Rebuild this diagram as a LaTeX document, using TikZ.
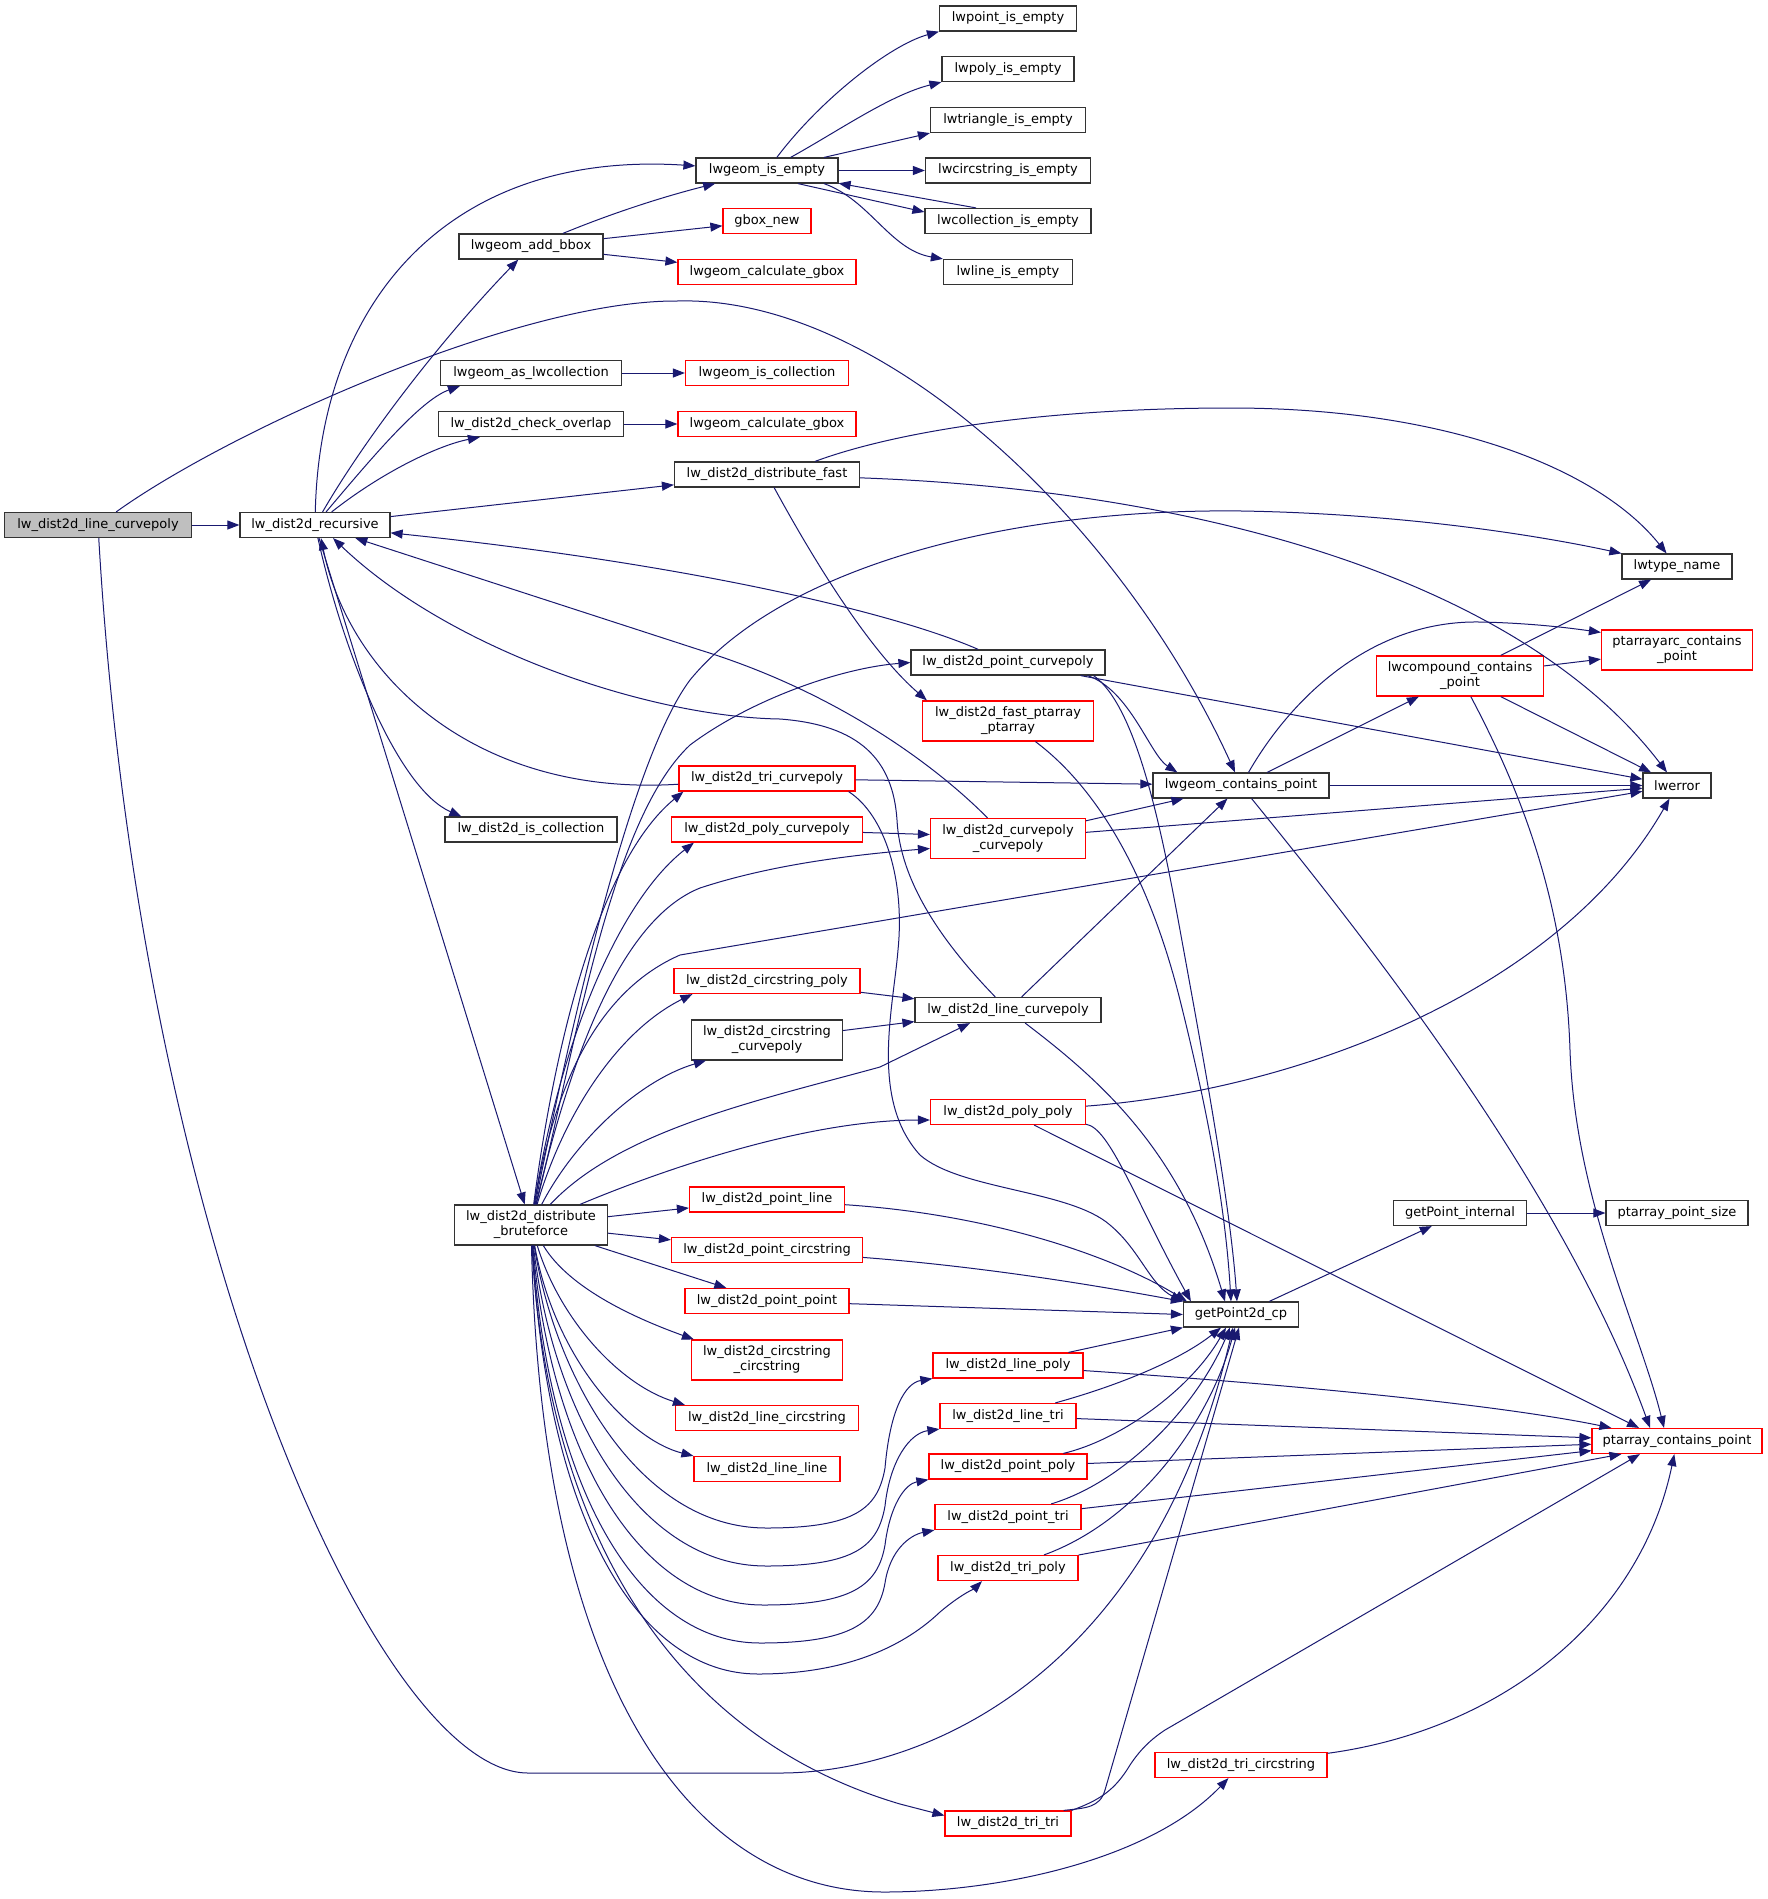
\documentclass[tikz,border=0pt]{standalone}
\usepackage{fontspec}
\setmainfont{DejaVu Sans}
\usetikzlibrary{arrows.meta}
\definecolor{edgec}{HTML}{191970}
\definecolor{redb}{HTML}{FF0000}
\begin{document}
\begin{tikzpicture}[x=1pt,y=-1pt,
  nbox/.style={draw=black!80, fill=white, line width=1.2pt, inner sep=0pt, minimum height=25pt, font=\fontsize{13}{15}\selectfont, text=black},
  nbox2/.style={nbox, minimum height=40pt, align=center},
  rbox/.style={nbox, draw=redb},
  rbox2/.style={nbox2, draw=redb},
  cnx/.style={draw=edgec, line width=1pt, -{Triangle[length=12pt,width=9pt]}}]
\fill[white] (0,0) rectangle (1768,1899);
\useasboundingbox (0,0) rectangle (1768,1899);
% ---------- nodes ----------
\node[nbox,minimum width=187pt,fill=black!25] (A) at (98,525) {lw\_dist2d\_line\_curvepoly};
\node[nbox,minimum width=150pt] (R) at (315,525) {lw\_dist2d\_recursive};
\node[nbox,minimum width=142pt] (E) at (767,170.5) {lwgeom\_is\_empty};
\node[nbox,minimum width=144pt] (AB) at (531,246.5) {lwgeom\_add\_bbox};
\node[rbox,minimum width=88pt] (GN) at (767,221) {gbox\_new};
\node[rbox,minimum width=178pt] (CGa) at (767,272) {lwgeom\_calculate\_gbox};
\node[nbox,minimum width=181pt] (AL) at (531,373) {lwgeom\_as\_lwcollection};
\node[rbox,minimum width=163pt] (IC) at (767,373) {lwgeom\_is\_collection};
\node[nbox,minimum width=185pt] (CO) at (531,424) {lw\_dist2d\_check\_overlap};
\node[rbox,minimum width=178pt] (CGb) at (767,424) {lwgeom\_calculate\_gbox};
\node[nbox,minimum width=185pt] (DF) at (767,474.5) {lw\_dist2d\_distribute\_fast};
\node[nbox,minimum width=137pt] (PE) at (1008,18.5) {lwpoint\_is\_empty};
\node[nbox,minimum width=132pt] (PY) at (1008,69) {lwpoly\_is\_empty};
\node[nbox,minimum width=155pt] (TE) at (1008,120) {lwtriangle\_is\_empty};
\node[nbox,minimum width=165pt] (CSE) at (1008,170.5) {lwcircstring\_is\_empty};
\node[nbox,minimum width=166pt] (COE) at (1008,221) {lwcollection\_is\_empty};
\node[nbox,minimum width=129pt] (LE) at (1008,272) {lwline\_is\_empty};
\node[nbox,minimum width=110pt] (TN) at (1677,566.5) {lwtype\_name};
\node[rbox2,minimum width=151pt] (PAC) at (1677,650) {ptarrayarc\_contains\\\_point};
\node[nbox,minimum width=194pt] (PCP) at (1008,662.5) {lw\_dist2d\_point\_curvepoly};
\node[rbox2,minimum width=171pt] (FPP) at (1008,721) {lw\_dist2d\_fast\_ptarray\\\_ptarray};
\node[rbox2,minimum width=167pt] (CC) at (1460,676) {lwcompound\_contains\\\_point};
\node[nbox,minimum width=176pt] (C) at (1241,785.5) {lwgeom\_contains\_point};
\node[nbox,minimum width=68pt] (LW) at (1677,785.5) {lwerror};
\node[rbox,minimum width=176pt] (TCP) at (767,778.5) {lw\_dist2d\_tri\_curvepoly};
\node[nbox,minimum width=172pt] (ISC) at (531,829.5) {lw\_dist2d\_is\_collection};
\node[rbox,minimum width=191pt] (PCV) at (767,829.5) {lw\_dist2d\_poly\_curvepoly};
\node[rbox2,minimum width=155pt] (CCP) at (1008,838.5) {lw\_dist2d\_curvepoly\\\_curvepoly};
\node[rbox,minimum width=186pt] (CSP) at (767,981) {lw\_dist2d\_circstring\_poly};
\node[nbox2,minimum width=151pt] (CSC) at (767,1040) {lw\_dist2d\_circstring\\\_curvepoly};
\node[nbox,minimum width=186pt] (LCP) at (1008,1010) {lw\_dist2d\_line\_curvepoly};
\node[rbox,minimum width=155pt] (PP) at (1008,1112) {lw\_dist2d\_poly\_poly};
\node[nbox2,minimum width=153pt] (B) at (531,1225) {lw\_dist2d\_distribute\\\_bruteforce};
\node[rbox,minimum width=155pt] (PL) at (767,1199.5) {lw\_dist2d\_point\_line};
\node[rbox,minimum width=191pt] (PCS) at (767,1250) {lw\_dist2d\_point\_circstring};
\node[nbox,minimum width=133pt] (GPI) at (1460,1213) {getPoint\_internal};
\node[nbox,minimum width=142pt] (PPS) at (1677,1213) {ptarray\_point\_size};
\node[rbox,minimum width=164pt] (PPT) at (767,1301) {lw\_dist2d\_point\_point};
\node[nbox,minimum width=115pt] (G) at (1241,1314.5) {getPoint2d\_cp};
\node[rbox2,minimum width=151pt] (CSCS) at (767,1360) {lw\_dist2d\_circstring\\\_circstring};
\node[rbox,minimum width=150pt] (LP) at (1008,1365.5) {lw\_dist2d\_line\_poly};
\node[rbox,minimum width=183pt] (LCS) at (767,1418) {lw\_dist2d\_line\_circstring};
\node[rbox,minimum width=136pt] (LT) at (1008,1416) {lw\_dist2d\_line\_tri};
\node[rbox,minimum width=170pt] (PCT) at (1677,1441) {ptarray\_contains\_point};
\node[rbox,minimum width=146pt] (LL) at (767,1469) {lw\_dist2d\_line\_line};
\node[rbox,minimum width=158pt] (PPO) at (1008,1466.5) {lw\_dist2d\_point\_poly};
\node[rbox,minimum width=146pt] (PT) at (1008,1517) {lw\_dist2d\_point\_tri};
\node[rbox,minimum width=140pt] (TP) at (1008,1568) {lw\_dist2d\_tri\_poly};
\node[rbox,minimum width=172pt] (TCS) at (1241,1765) {lw\_dist2d\_tri\_circstring};
\node[rbox,minimum width=126pt] (TT) at (1008,1823.5) {lw\_dist2d\_tri\_tri};
% ---------- edges ----------
% main node
\draw[cnx] (A) -- (R);
\draw[cnx] (A) .. controls (230,430) and (520,300) .. (677,301) .. controls (880,295) and (1120,520) .. (C);
\draw[cnx] (A) .. controls (140,1250) and (380,1773) .. (528,1773) -- (780,1773) .. controls (920,1773) and (1150,1680) .. ([xshift=-8pt]G.south);
% recursive
\draw[cnx] (R) .. controls (320,300) and (450,150) .. (E);
\draw[cnx] (R) .. controls (370,430) and (450,330) .. (AB);
\draw[cnx] (R) .. controls (370,460) and (420,400) .. ([xshift=20pt]AL.south west);
\draw[cnx] (R) .. controls (385,470) and (440,445) .. ([xshift=42pt]CO.south west);
\draw[cnx] (R) -- (DF);
\draw[cnx] (R) .. controls (345,660) and (400,790) .. ([xshift=17pt]ISC.north west);
\draw[cnx] (R) -- (B);
% into recursive
\draw[cnx] (PCP) .. controls (900,615) and (700,565) .. (R);
\draw[cnx] (CCP) .. controls (930,760) and (830,690) .. (700,650) -- (R);
\draw[cnx] (TCP) .. controls (480,797) and (350,680) .. ([xshift=6pt]R.south);
\draw[cnx] (LCP) .. controls (940,940) and (900,880) .. (897,820) .. controls (893,760) and (860,725) .. (780,719) .. controls (650,717) and (450,650) .. ([xshift=18pt]R.south);
% is_empty
\draw[cnx] (E) .. controls (820,100) and (890,45) .. (PE.south west);
\draw[cnx] (E) .. controls (840,130) and (890,95) .. (PY.south west);
\draw[cnx] (E) -- (TE.south west);
\draw[cnx] (E) -- (CSE);
\draw[cnx] ([xshift=31pt]E.south) -- ([yshift=9pt]COE.west);
\draw[cnx] ([xshift=-32pt]COE.north) -- (E);
\draw[cnx] ([xshift=57pt]E.south) .. controls (870,200) and (890,250) .. (LE.north west);
% add_bbox etc
\draw[cnx] (AB) .. controls (620,210) and (670,195) .. (E);
\draw[cnx] (AB) -- (GN);
\draw[cnx] (AB) -- (CGa);
\draw[cnx] (AL) -- (IC);
\draw[cnx] (CO) -- (CGb);
% distribute_fast
\draw[cnx] ([xshift=48pt]DF.north) .. controls (900,430) and (1050,408) .. (1231,408) .. controls (1450,408) and (1600,470) .. (TN);
\draw[cnx] (DF) .. controls (1200,490) and (1520,580) .. (LW);
\draw[cnx] (DF) .. controls (830,590) and (880,660) .. ([xshift=5pt]FPP.north west);
% bruteforce
\draw[cnx] (B) .. controls (570,1030) and (630,760) .. (690,680) .. controls (780,570) and (1000,508) .. (1242,511) .. controls (1420,514) and (1560,540) .. (TN.north west);
\draw[cnx] (B) .. controls (575,1050) and (610,820) .. (690,745) .. controls (750,700) and (840,668) .. (PCP.west);
\draw[cnx] (B) .. controls (555,1040) and (600,860) .. ([xshift=5pt]TCP.south west);
\draw[cnx] (B) .. controls (560,1040) and (620,900) .. ([xshift=23pt]PCV.south west);
\draw[cnx] (B) .. controls (570,1060) and (620,920) .. (700,888) .. controls (770,865) and (850,855) .. ([yshift=-10pt]CCP.west);
\draw[cnx] (B) .. controls (555,1080) and (600,990) .. (680,955) -- (LW);
\draw[cnx] (B) .. controls (565,1110) and (620,1030) .. ([xshift=19pt]CSP.south west);
\draw[cnx] (B) .. controls (575,1140) and (640,1080) .. ([xshift=15pt]CSC.south west);
\draw[cnx] (B) .. controls (620,1130) and (760,1100) .. (880,1067) -- ([xshift=-38pt]LCP.south);
\draw[cnx] (B) .. controls (650,1175) and (800,1120) .. ([yshift=-8pt]PP.west);
\draw[cnx] (B) -- (PL);
\draw[cnx] (B) -- (PCS);
\draw[cnx] (B) -- (PPT);
\draw[cnx] (B) .. controls (570,1290) and (640,1320) .. ([xshift=3pt]CSCS.north west);
\draw[cnx] (B) .. controls (560,1320) and (620,1385) .. ([xshift=10pt]LCS.north west);
\draw[cnx] (B) .. controls (555,1360) and (630,1440) .. (LL.north west);
\draw[cnx] (B) .. controls (555,1378) and (640,1528) .. (766,1528) .. controls (856,1528) and (878,1508) .. (885,1468) .. controls (890,1410) and (905,1383) .. (LP.south west);
\draw[cnx] (B) .. controls (553,1416) and (640,1566) .. (766,1566) .. controls (856,1566) and (878,1546) .. (885,1506) .. controls (890,1460) and (910,1433) .. (LT.south west);
\draw[cnx] (B) .. controls (551,1455) and (640,1605) .. (763,1605) .. controls (853,1605) and (878,1585) .. (885,1545) .. controls (890,1505) and (905,1484) .. (PPO.south west);
\draw[cnx] (B) .. controls (549,1493) and (640,1643) .. (760,1643) .. controls (850,1643) and (878,1623) .. (885,1583) .. controls (890,1550) and (910,1535) .. (PT.south west);
\draw[cnx] (B) .. controls (547,1524) and (640,1674) .. (758,1674) .. controls (840,1674) and (900,1650) .. (940,1612) .. controls (960,1595) and (975,1588) .. ([xshift=-26pt]TP.south);
\draw[cnx] (B) .. controls (545,1500) and (650,1730) .. (900,1804) -- ([yshift=8pt]TT.west);
\draw[cnx] (B) .. controls (542,1700) and (700,1892) .. (884,1892) .. controls (1000,1892) and (1150,1860) .. (TCS);
% point_curvepoly
\draw[cnx] ([xshift=-18pt]PCP.south east) .. controls (1130,690) and (1150,755) .. ([xshift=25pt]C.north west);
\draw[cnx] ([xshift=-25pt]PCP.south east) -- (LW);
\draw[cnx] ([xshift=-12pt]PCP.south east) .. controls (1135,705) and (1160,820) .. (1180,930) .. controls (1200,1040) and (1230,1200) .. ([xshift=-4pt]G.north);
% fast_ptarray
\draw[cnx] (FPP) .. controls (1100,790) and (1150,880) .. (1180,1000) .. controls (1205,1100) and (1225,1200) .. ([xshift=-10pt]G.north);
% tri_curvepoly
\draw[cnx] (TCP) -- (C);
\draw[cnx] ([xshift=-7pt]TCP.south east) .. controls (885,815) and (905,880) .. (898,950) .. controls (893,1010) and (870,1100) .. (920,1155) .. controls (960,1190) and (1070,1190) .. (1110,1225) .. controls (1140,1250) and (1150,1285) .. (G.north west);
% curvepoly_curvepoly
\draw[cnx] (PCV) -- ([yshift=4pt]CCP.west);
\draw[cnx] (CCP) -- (C);
\draw[cnx] (CCP) -- (LW);
% line_curvepoly
\draw[cnx] (CSP) -- (LCP);
\draw[cnx] (CSC) -- (LCP);
\draw[cnx] (LCP) -- (C);
\draw[cnx] (LCP) .. controls (1100,1080) and (1180,1150) .. ([xshift=-16pt]G.north);
% poly_poly
\draw[cnx] (PP) .. controls (1300,1090) and (1560,990) .. (LW);
\draw[cnx] (PP) .. controls (1110,1128) and (1135,1200) .. ([xshift=8pt]G.north west);
\draw[cnx] (PP) -- ([xshift=-38pt]PCT.north);
% point_line etc
\draw[cnx] (PL) .. controls (1000,1215) and (1120,1260) .. ([xshift=4pt]G.north west);
\draw[cnx] (PCS) .. controls (1000,1268) and (1120,1290) .. (G.north west);
\draw[cnx] (PPT) -- (G.west);
% getPoint
\draw[cnx] (G) -- (GPI);
\draw[cnx] (GPI) -- (PPS);
% contains_point
\draw[cnx] (C) -- (LW);
\draw[cnx] (C) -- (CC);
\draw[cnx] (C) .. controls (1290,700) and (1370,620) .. (1480,622) .. controls (1530,623) and (1570,628) .. ([yshift=-3pt]PAC.north west);
\draw[cnx] (C) .. controls (1350,920) and (1560,1180) .. ([xshift=-27pt]PCT.north);
% compound
\draw[cnx] (CC) -- (TN);
\draw[cnx] (CC) -- (PAC);
\draw[cnx] (CC) -- (LW);
\draw[cnx] (CC) .. controls (1520,790) and (1565,900) .. (1570,1050) .. controls (1575,1200) and (1640,1330) .. ([xshift=-13pt]PCT.north);
% lower group
\draw[cnx] (LP) -- (G.south west);
\draw[cnx] (LP) .. controls (1300,1385) and (1500,1405) .. ([xshift=20pt]PCT.north west);
\draw[cnx] (LT) .. controls (1120,1385) and (1180,1360) .. ([xshift=-20pt]G.south);
\draw[cnx] (LT) -- (PCT);
\draw[cnx] (PPO) .. controls (1120,1440) and (1190,1390) .. ([xshift=-15pt]G.south);
\draw[cnx] (PPO) -- (PCT);
\draw[cnx] (PT) .. controls (1130,1480) and (1200,1400) .. ([xshift=-11pt]G.south);
\draw[cnx] (PT) -- (PCT);
\draw[cnx] (TP) .. controls (1140,1520) and (1210,1420) .. ([xshift=-6pt]G.south);
\draw[cnx] (TP) -- ([xshift=30pt]PCT.south west);
\draw[cnx] ([xshift=-8pt]TT.north east) .. controls (1085,1808) and (1100,1808) .. (1105,1790) -- ([xshift=-2pt]G.south);
\draw[cnx] (TT.north east) .. controls (1100,1800) and (1115,1790) .. (1130,1765) .. controls (1140,1750) and (1150,1740) .. (1165,1730) -- ([xshift=-37pt]PCT.south);
\draw[cnx] (TCS) .. controls (1500,1730) and (1640,1620) .. (PCT);
\end{tikzpicture}
\end{document}
